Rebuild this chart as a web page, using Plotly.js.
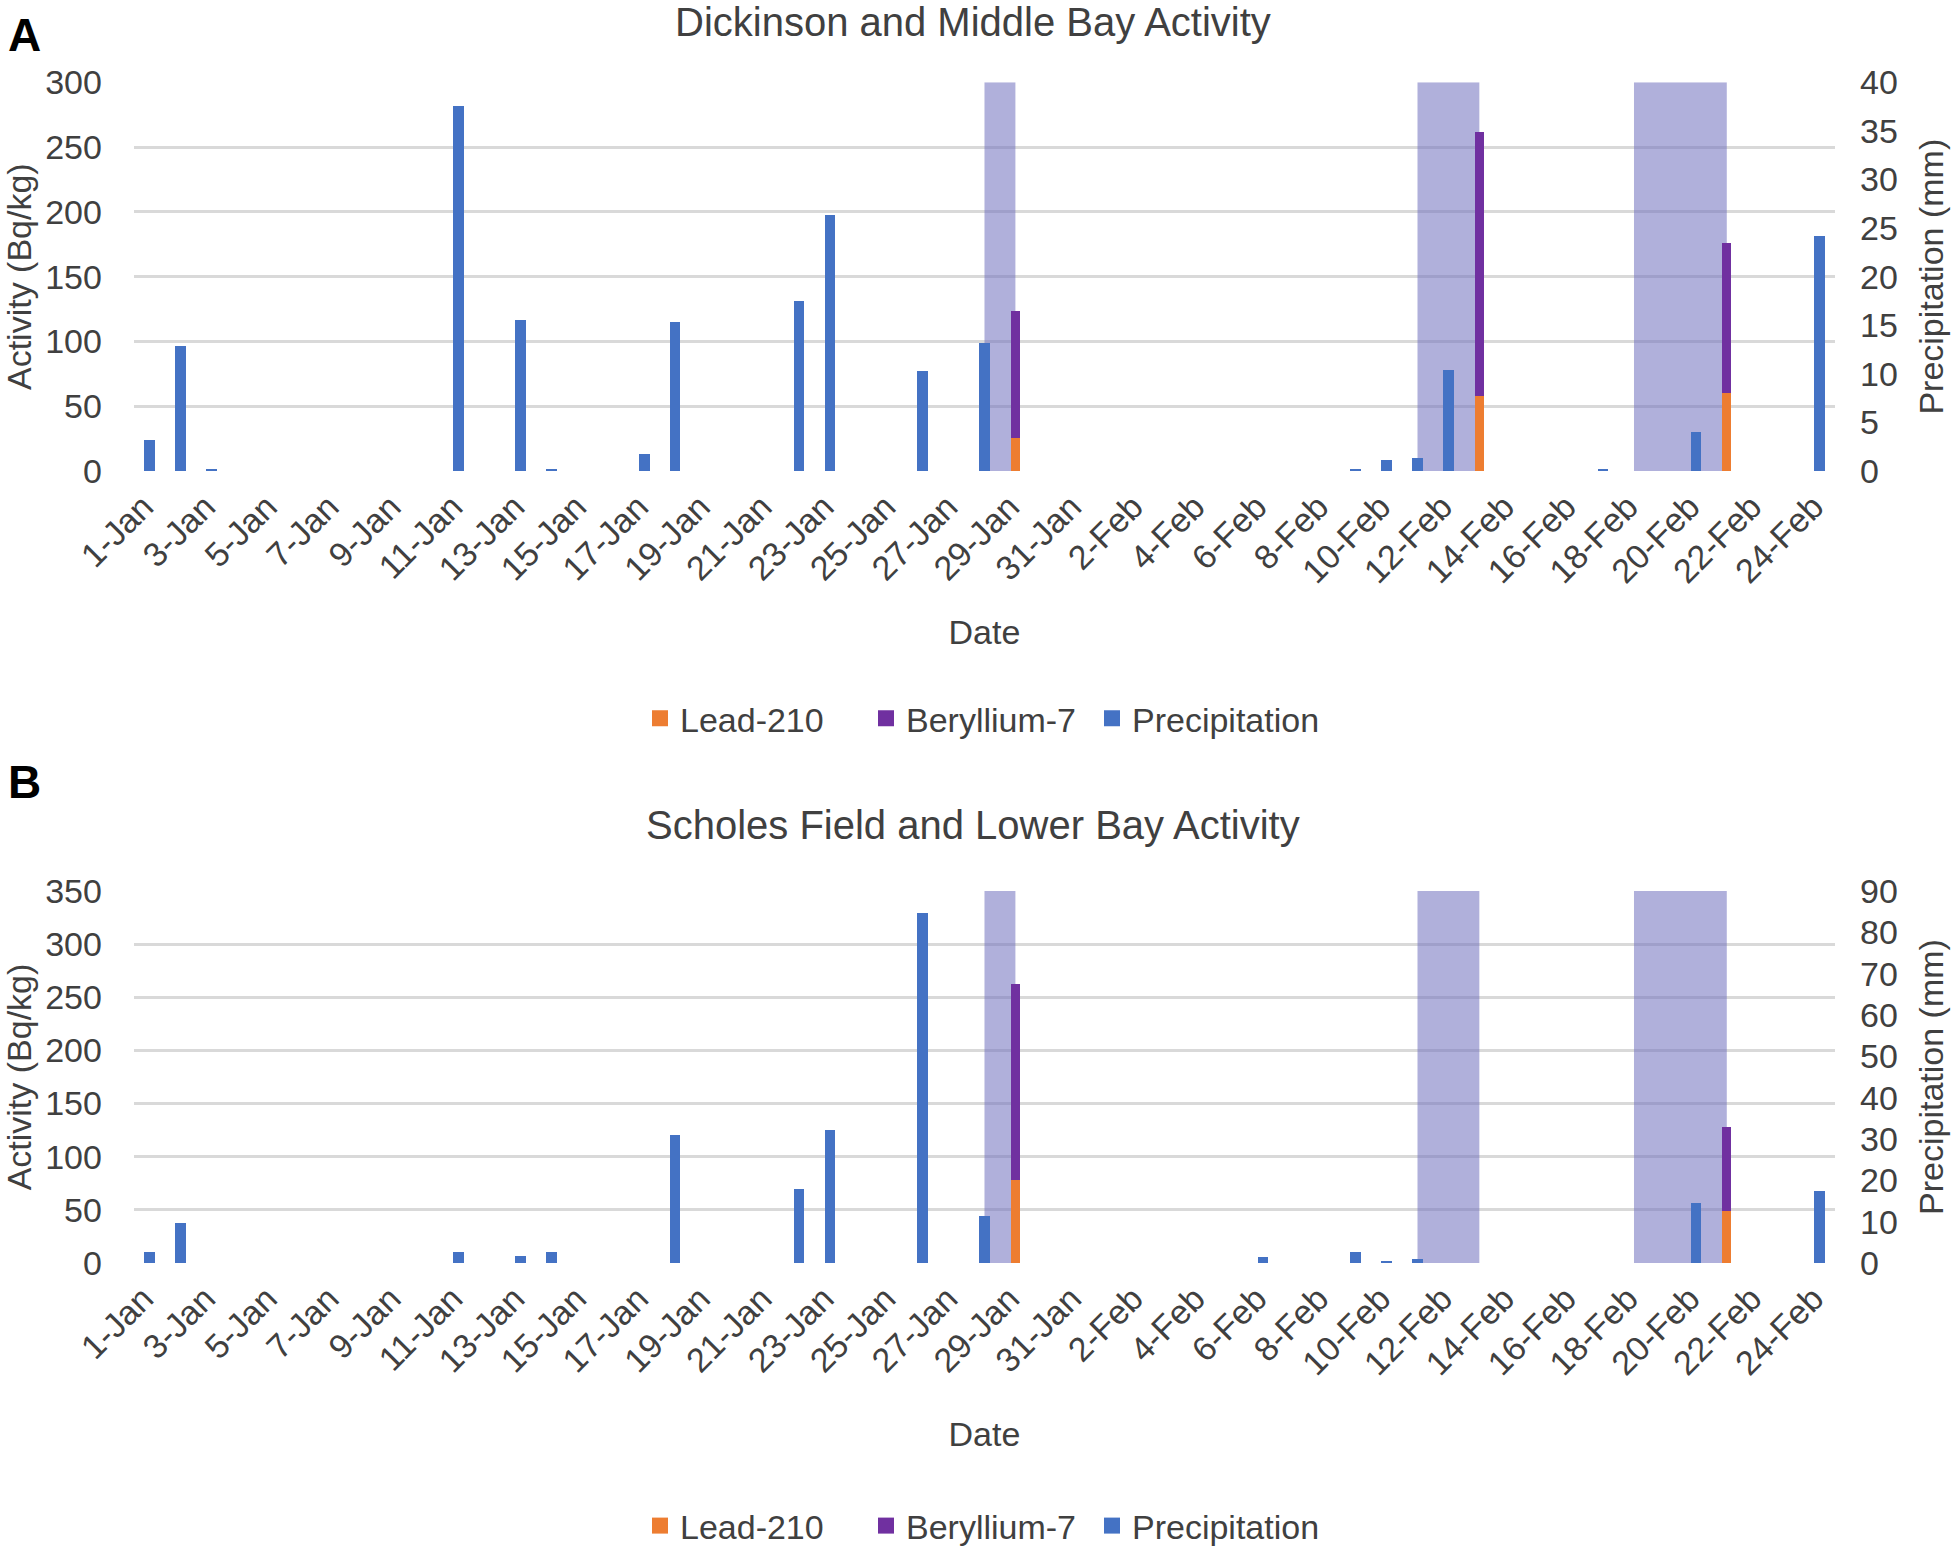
<!DOCTYPE html>
<html>
<head>
<meta charset="utf-8">
<script src="https://cdn.plot.ly/plotly-3.0.1.min.js"></script>
<style>
    body { margin: 0; background: #ffffff; }
    #chart { width: 1958px; height: 1555px; }
</style>
</head>
<body>
<div id="chart"></div>
<script>
// days on the x axis
const dates = [
    '1-Jan', '2-Jan', '3-Jan', '4-Jan', '5-Jan', '6-Jan', '7-Jan', '8-Jan', '9-Jan', '10-Jan',
    '11-Jan', '12-Jan', '13-Jan', '14-Jan', '15-Jan', '16-Jan', '17-Jan', '18-Jan', '19-Jan', '20-Jan',
    '21-Jan', '22-Jan', '23-Jan', '24-Jan', '25-Jan', '26-Jan', '27-Jan', '28-Jan', '29-Jan', '30-Jan',
    '31-Jan', '1-Feb', '2-Feb', '3-Feb', '4-Feb', '5-Feb', '6-Feb', '7-Feb', '8-Feb', '9-Feb',
    '10-Feb', '11-Feb', '12-Feb', '13-Feb', '14-Feb', '15-Feb', '16-Feb', '17-Feb', '18-Feb', '19-Feb',
    '20-Feb', '21-Feb', '22-Feb', '23-Feb', '24-Feb'
];

// only every second day is labelled
const tickDates = [
    '1-Jan', '3-Jan', '5-Jan', '7-Jan', '9-Jan', '11-Jan', '13-Jan', '15-Jan', '17-Jan', '19-Jan',
    '21-Jan', '23-Jan', '25-Jan', '27-Jan', '29-Jan', '31-Jan', '2-Feb', '4-Feb', '6-Feb', '8-Feb',
    '10-Feb', '12-Feb', '14-Feb', '16-Feb', '18-Feb', '20-Feb', '22-Feb', '24-Feb'
];

// panel A - Dickinson and Middle Bay
const dickinsonPrecip = [
    3.2, 12.9, 0.25, 0, 0, 0, 0, 0, 0, 0,
    37.6, 0, 15.5, 0.25, 0, 0, 1.8, 15.3, 0, 0,
    0, 17.5, 26.3, 0, 0, 10.3, 0, 13.2, 0, 0,
    0, 0, 0, 0, 0, 0, 0, 0, 0, 0.25,
    1.1, 1.3, 10.4, 0, 0, 0, 0, 0.25, 0, 0,
    4.0, 0, 0, 0, 24.2
];
const dickinsonLead = [
    0, 0, 0, 0, 0, 0, 0, 0, 0, 0,
    0, 0, 0, 0, 0, 0, 0, 0, 0, 0,
    0, 0, 0, 0, 0, 0, 0, 0, 25.6, 0,
    0, 0, 0, 0, 0, 0, 0, 0, 0, 0,
    0, 0, 0, 58.1, 0, 0, 0, 0, 0, 0,
    0, 60.1, 0, 0, 0
];
const dickinsonBeryllium = [
    0, 0, 0, 0, 0, 0, 0, 0, 0, 0,
    0, 0, 0, 0, 0, 0, 0, 0, 0, 0,
    0, 0, 0, 0, 0, 0, 0, 0, 98.0, 0,
    0, 0, 0, 0, 0, 0, 0, 0, 0, 0,
    0, 0, 0, 203.7, 0, 0, 0, 0, 0, 0,
    0, 116.0, 0, 0, 0
];

// panel B - Scholes Field and Lower Bay
const scholesPrecip = [
    2.6, 9.7, 0, 0, 0, 0, 0, 0, 0, 0,
    2.6, 0, 1.8, 2.6, 0, 0, 0, 31.0, 0, 0,
    0, 18.0, 32.2, 0, 0, 84.8, 0, 11.3, 0, 0,
    0, 0, 0, 0, 0, 0, 1.45, 0, 0, 2.6,
    0.56, 1.0, 0, 0, 0, 0, 0, 0, 0, 0,
    14.5, 0, 0, 0, 17.3
];
const scholesLead = [
    0, 0, 0, 0, 0, 0, 0, 0, 0, 0,
    0, 0, 0, 0, 0, 0, 0, 0, 0, 0,
    0, 0, 0, 0, 0, 0, 0, 0, 77.6, 0,
    0, 0, 0, 0, 0, 0, 0, 0, 0, 0,
    0, 0, 0, 0, 0, 0, 0, 0, 0, 0,
    0, 48.5, 0, 0, 0
];
const scholesBeryllium = [
    0, 0, 0, 0, 0, 0, 0, 0, 0, 0,
    0, 0, 0, 0, 0, 0, 0, 0, 0, 0,
    0, 0, 0, 0, 0, 0, 0, 0, 185.4, 0,
    0, 0, 0, 0, 0, 0, 0, 0, 0, 0,
    0, 0, 0, 0, 0, 0, 0, 0, 0, 0,
    0, 79.9, 0, 0, 0
];

// shaded sampling periods
const periodStart = ['28-Jan', '11-Feb', '18-Feb'];
const periodEnd = ['29-Jan', '13-Feb', '21-Feb'];

const activityMaxA = 300;
const activityMaxB = 350;

const FONT = 'Liberation Sans, Arial, sans-serif';
const TEXT = '#404040';
const GRID = '#d9d9d9';
const XDOM = [0.0684, 0.9372];

const seriesNames = ['Lead-210', 'Beryllium-7', 'Precipitation'];
const seriesColors = ['#ED7D31', '#7030A0', '#4472C4'];

function panelTraces(xa, ya, yb, legend, lead, beryllium, precip) {
    const traces = [
        {
            x: dates, y: lead, type: 'bar', name: seriesNames[0],
            xaxis: xa, yaxis: ya, showlegend: false,
            width: 0.3, marker: { color: seriesColors[0] }
        },
        {
            x: dates, y: beryllium, type: 'bar', name: seriesNames[1],
            xaxis: xa, yaxis: ya, showlegend: false,
            width: 0.3, marker: { color: seriesColors[1] }
        },
        {
            x: dates, y: precip, type: 'bar', name: seriesNames[2],
            xaxis: xa, yaxis: yb, showlegend: false,
            width: 0.34, marker: { color: seriesColors[2] }
        }
    ];
    // square legend keys like the spreadsheet legend
    seriesNames.forEach(function (name, i) {
        traces.push({
            x: [null], y: [null], type: 'scatter', mode: 'markers', name: name,
            xaxis: xa, yaxis: ya, legend: legend, hoverinfo: 'skip',
            marker: { symbol: 'square', size: 16, color: seriesColors[i] }
        });
    });
    return traces;
}

function dateAxis(anchor, titleGap) {
    return {
        domain: XDOM,
        anchor: anchor,
        type: 'category',
        categoryorder: 'array',
        categoryarray: dates,
        range: [-0.5, dates.length - 0.5],
        tickmode: 'array',
        tickvals: tickDates,
        tickangle: -45,
        tickfont: { size: 34, color: TEXT },
        ticklabelstandoff: 8,
        ticklabelshift: -6,
        showgrid: false,
        showline: false,
        zeroline: false,
        ticks: '',
        automargin: false,
        title: { text: 'Date', font: { size: 34, color: TEXT }, standoff: titleGap }
    };
}

function leftAxis(domain, anchor, max, title) {
    return {
        domain: domain,
        anchor: anchor,
        range: [0, max],
        dtick: 50,
        tickfont: { size: 34, color: TEXT },
        gridcolor: GRID,
        gridwidth: 2.5,
        zeroline: false,
        showline: false,
        ticks: '',
        ticklabelstandoff: 31,
        automargin: false,
        title: { text: title, font: { size: 34, color: TEXT }, standoff: 6 }
    };
}

function rightAxis(over, anchor, max, step) {
    return {
        overlaying: over,
        anchor: anchor,
        side: 'right',
        range: [0, max],
        dtick: step,
        tickfont: { size: 34, color: TEXT },
        showgrid: false,
        zeroline: false,
        showline: false,
        ticks: '',
        ticklabelstandoff: 24,
        automargin: false,
        title: { text: 'Precipitation (mm)', font: { size: 34, color: TEXT }, standoff: 22 }
    };
}

const shapes = [];
[['x', 'y', activityMaxA], ['x2', 'y3', activityMaxB]].forEach(function (ref) {
    for (let i = 0; i < periodStart.length; i++) {
        shapes.push({
            type: 'rect', layer: 'between',
            xref: ref[0], yref: ref[1],
            x0: periodStart[i], x1: periodEnd[i], y0: 0, y1: ref[2],
            fillcolor: 'rgb(112,112,190)', opacity: 0.55,
            line: { width: 0 }
        });
    }
});

const data = []
    .concat(panelTraces('x', 'y', 'y2', 'legend', dickinsonLead, dickinsonBeryllium, dickinsonPrecip))
    .concat(panelTraces('x2', 'y3', 'y4', 'legend2', scholesLead, scholesBeryllium, scholesPrecip));

const legendStyle = {
    orientation: 'h', x: 0.5, xanchor: 'center', yanchor: 'middle',
    traceorder: 'normal', entrywidth: 181, itemwidth: 30,
    font: { size: 34, color: TEXT }, bgcolor: 'rgba(0,0,0,0)'
};

const layout = {
    width: 1958,
    height: 1555,
    margin: { l: 0, r: 0, t: 0, b: 0 },
    paper_bgcolor: '#ffffff',
    plot_bgcolor: '#ffffff',
    font: { family: FONT, size: 34, color: TEXT },
    barmode: 'stack',
    showlegend: true,
    xaxis: dateAxis('y', 31),
    yaxis: leftAxis([0.6961, 0.9469], 'x', activityMaxA, 'Activity (Bq/kg)'),
    yaxis2: rightAxis('y', 'x', 40, 5),
    xaxis2: dateAxis('y3', 41),
    yaxis3: leftAxis([0.1852, 0.4251], 'x2', activityMaxB, 'Activity (Bq/kg)'),
    yaxis4: rightAxis('y3', 'x2', 90, 10),
    legend: Object.assign({ y: 0.5363 }, legendStyle),
    legend2: Object.assign({ y: 0.0154 }, legendStyle),
    shapes: shapes,
    annotations: [
        {
            text: 'Dickinson and Middle Bay Activity', xref: 'paper', yref: 'paper',
            x: 0.497, y: 0.9855, xanchor: 'center', yanchor: 'middle', showarrow: false,
            font: { size: 40, color: TEXT }
        },
        {
            text: 'Scholes Field and Lower Bay Activity', xref: 'paper', yref: 'paper',
            x: 0.497, y: 0.4678, xanchor: 'center', yanchor: 'middle', showarrow: false,
            font: { size: 40, color: TEXT }
        },
        {
            text: '<b>A</b>', xref: 'paper', yref: 'paper',
            x: 0.003, y: 0.9775, xanchor: 'left', yanchor: 'middle', showarrow: false,
            font: { size: 46, color: '#000000' }
        },
        {
            text: '<b>B</b>', xref: 'paper', yref: 'paper',
            x: 0.003, y: 0.4952, xanchor: 'left', yanchor: 'middle', showarrow: false,
            font: { size: 46, color: '#000000' }
        }
    ]
};

Plotly.newPlot('chart', data, layout, { displayModeBar: false, responsive: false });
</script>
</body>
</html>
